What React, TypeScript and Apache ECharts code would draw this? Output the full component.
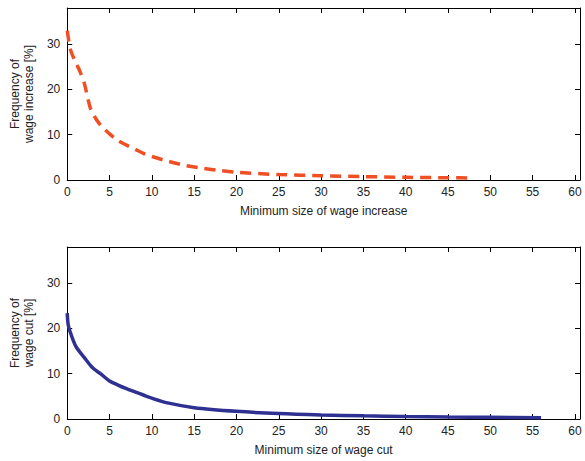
import React, { useEffect, useRef } from "react";
import * as echarts from "echarts";

const incX = [0, 0.4, 1, 1.5, 2, 2.5, 2.8, 3.5, 4, 5, 6, 7, 8, 9, 10, 12, 14, 16, 18, 20, 25, 30, 35, 40, 45, 48];
const incY = [33, 28.7, 26, 24, 21.5, 17.5, 15.5, 13.2, 12, 10.2, 8.7, 7.7, 6.8, 5.9, 5.2, 4.1, 3.2, 2.6, 2.1, 1.7, 1.2, 0.95, 0.75, 0.6, 0.5, 0.45];
const cutX = [0, 0.1, 0.3, 1, 2, 3, 4, 5, 6, 7, 8, 9, 10, 12, 15, 20, 25, 30, 35, 40, 45, 50, 56];
const cutY = [23.4, 21, 19.5, 16.1, 13.6, 11.3, 9.9, 8.4, 7.5, 6.7, 6, 5.3, 4.6, 3.5, 2.5, 1.7, 1.2, 0.9, 0.7, 0.55, 0.45, 0.38, 0.3];

const xTicks = [0, 5, 10, 15, 20, 25, 30, 35, 40, 45, 50, 55, 60];
const yTicks = [0, 10, 20, 30];

const xNames = ["Minimum size of wage increase", "Minimum size of wage cut"];
const yNames = ["Frequency of\nwage increase [%]", "Frequency of\nwage cut [%]"];

const FONT = "Liberation Sans, Arial, Helvetica, sans-serif";
const TXT = "#222";

export default function App() {
  const ref = useRef<HTMLDivElement>(null);
  useEffect(() => {
    const chart = echarts.init(ref.current!, undefined, { renderer: "svg" });
    const xLab = (v: number) => (xTicks.includes(v) ? String(v) : "");
    const yLab = (v: number) => (yTicks.includes(v) ? String(v) : "");
    const grids = [
      { left: 63, right: 5, top: 8, height: 172 },
      { left: 63, right: 5, top: 247, height: 172 },
    ];
    const xAxes: any[] = [];
    const yAxes: any[] = [];
    [0, 1].forEach((g) => {
      const common = {
        gridIndex: g,
        type: "value",
        min: 0,
        max: 60.6,
        interval: 5,
        splitLine: { show: false },
        axisLine: { show: true, onZero: false, lineStyle: { color: "#000", width: 1 } },
        axisTick: { show: true, inside: true, length: 5, lineStyle: { color: "#000" } },
      };
      xAxes.push({
        ...common,
        position: "bottom",
        name: xNames[g],
        nameLocation: "middle",
        nameGap: 25,
        nameTextStyle: { fontFamily: FONT, fontSize: 12, color: TXT },
        axisLabel: { formatter: xLab, fontFamily: FONT, fontSize: 12, color: TXT, margin: 6, showMaxLabel: false },
      });
      xAxes.push({ ...common, position: "top", axisLabel: { show: false } });
      const ycommon = {
        gridIndex: g,
        type: "value",
        min: 0,
        max: 38,
        interval: 10,
        splitLine: { show: false },
        axisLine: { show: true, onZero: false, lineStyle: { color: "#000", width: 1 } },
        axisTick: { show: true, inside: true, length: 5, lineStyle: { color: "#000" } },
      };
      yAxes.push({
        ...ycommon,
        position: "left",
        name: yNames[g],
        nameLocation: "middle",
        nameGap: 27,
        nameRotate: 90,
        nameTextStyle: { fontFamily: FONT, fontSize: 12, color: TXT, lineHeight: 14 },
        axisLabel: { formatter: yLab, fontFamily: FONT, fontSize: 12, color: TXT, margin: 7, showMaxLabel: false },
      });
      yAxes.push({ ...ycommon, position: "right", axisLabel: { show: false } });
    });
    chart.setOption({
      animation: false,
      backgroundColor: "#fff",
      grid: grids,
      xAxis: xAxes,
      yAxis: yAxes,
      series: [
        {
          type: "line",
          xAxisIndex: 0,
          yAxisIndex: 0,
          data: incX.map((x, i) => [x, incY[i]]),
          showSymbol: false,
          smooth: 0.3,
          lineStyle: { color: "#f04e23", width: 3.5, type: [11, 7], cap: "butt" },
        },
        {
          type: "line",
          xAxisIndex: 2,
          yAxisIndex: 2,
          data: cutX.map((x, i) => [x, cutY[i]]),
          showSymbol: false,
          smooth: 0.3,
          lineStyle: { color: "#2e3192", width: 3.5 },
        },
      ],
    });
    return () => chart.dispose();
  }, []);
  return (
    <div
      ref={ref}
      style={{ position: "fixed", left: 0, top: 0, width: 585, height: 461, overflow: "hidden" }}
    />
  );
}
